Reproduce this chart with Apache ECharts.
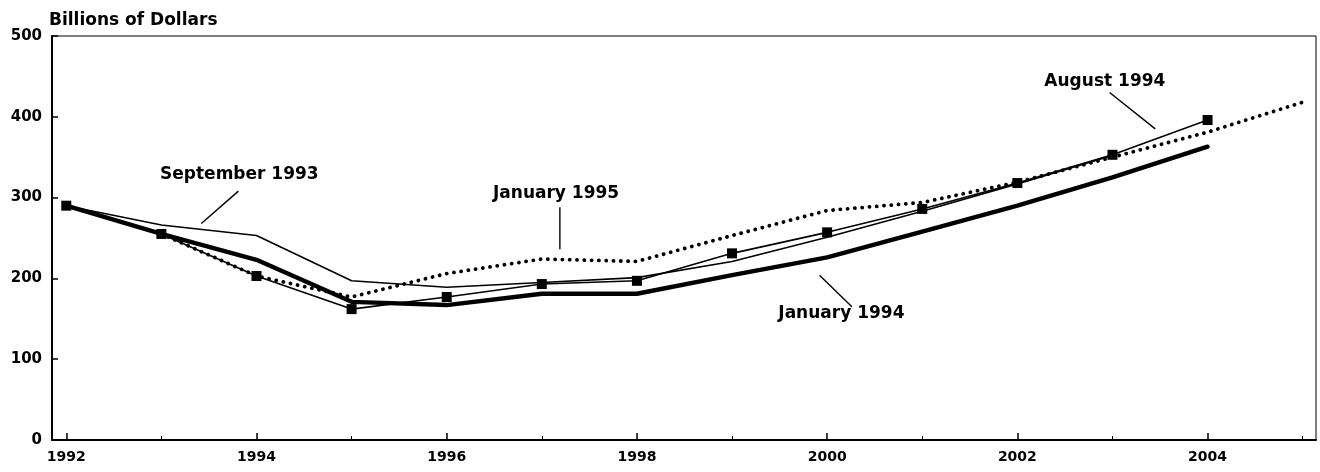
<!DOCTYPE html>
<html><head><meta charset="utf-8">
<script src="https://cdn.jsdelivr.net/npm/echarts@6/dist/echarts.min.js"></script>
<style>html,body{margin:0;padding:0;background:#fff}#c{width:1320px;height:472px}</style>
</head><body><div id="c"></div>
<script>
// ---- data ----
const years   = [1992, 1993, 1994, 1995, 1996, 1997, 1998, 1999, 2000, 2001, 2002, 2003, 2004, 2005];
const sep1993 = [290, 266, 253, 197, 189, 195, 201, 221, 251, 283, 317, 352, null, null];
const jan1994 = [290, 255, 223, 171, 167, 181, 181, 204, 226, 258, 290, 325, 363, null];
const aug1994 = [290, 255, 203, 162, 177, 193, 197, 231, 257, 286, 318, 353, 396, null];
const jan1995 = [null, 255, 203, 177, 206, 224, 221, 253, 284, 294, 319, 350, 381, 418];
const majorYears = [1992, 1994, 1996, 1998, 2000, 2002, 2004];
const minorYears = [1993, 1995, 1997, 1999, 2001, 2003, 2005];
const seriesNames = ['September 1993', 'January 1994', 'August 1994', 'January 1995'];
const yTitle = 'Billions of Dollars';

// annotation text + leader in data coordinates
const annotations = [
  {text: 'September 1993', at: [1993.82, 329], from: [1993.81, 308], to: [1993.42, 268]},
  {text: 'January 1995',   at: [1997.15, 305], from: [1997.19, 288], to: [1997.19, 236]},
  {text: 'January 1994',   at: [2000.15, 157], from: [1999.92, 204], to: [2000.26, 165]},
  {text: 'August 1994',    at: [2002.92, 444], from: [2002.97, 430], to: [2003.45, 385]}
];

const FONT = '"DejaVu Sans", "Liberation Sans", Arial, sans-serif';
const pairs = vals => years.map((y, i) => [y, vals[i]]);

const chart = echarts.init(document.getElementById('c'), null, {renderer: 'canvas'});
const XMIN = 1991.85, XMAX = 2005.14;

const option = {
  animation: false,
  backgroundColor: '#fff',
  title: {
    text: yTitle, left: 49, top: 12, padding: 0,
    textStyle: {fontFamily: FONT, fontWeight: 'bold', fontSize: 17, color: '#000'}
  },
  grid: {left: 52, right: 4, top: 36, bottom: 32, show: true, borderColor: '#000', borderWidth: 1, backgroundColor: 'transparent'},
  xAxis: [
    {
      type: 'value', min: XMIN, max: XMAX, position: 'bottom',
      axisLine: {show: true, lineStyle: {color: '#000', width: 2}},
      axisTick: {show: true, inside: true, length: 7, customValues: majorYears, lineStyle: {color: '#000', width: 1.5}},
      axisLabel: {show: true, customValues: majorYears, formatter: v => String(v), margin: 10,
        fontFamily: FONT, fontWeight: 'bold', fontSize: 14, color: '#000'},
      splitLine: {show: false}
    },
    {
      type: 'value', min: XMIN, max: XMAX, position: 'bottom', gridIndex: 0,
      axisLine: {show: false},
      axisTick: {show: true, inside: true, length: 4, customValues: minorYears, lineStyle: {color: '#000', width: 1}},
      axisLabel: {show: false},
      splitLine: {show: false}
    }
  ],
  yAxis: {
    type: 'value', min: 0, max: 500, interval: 100,
    axisLine: {show: true, lineStyle: {color: '#000', width: 2}},
    axisTick: {show: true, inside: true, length: 6, lineStyle: {color: '#000', width: 1.5}},
    axisLabel: {margin: 10, formatter: v => String(v), fontFamily: FONT, fontWeight: 'bold', fontSize: 15, color: '#000'},
    splitLine: {show: false}
  },
  series: [
    {name: seriesNames[0], type: 'line', data: pairs(sep1993), symbol: 'none',
      lineStyle: {color: '#000', width: 1.6}, z: 3},
    {name: seriesNames[1], type: 'line', data: pairs(jan1994), symbol: 'none',
      lineStyle: {color: '#000', width: 4.4, join: 'round', cap: 'round'}, z: 2},
    {name: seriesNames[2], type: 'line', data: pairs(aug1994), symbol: 'rect', symbolSize: 10,
      itemStyle: {color: '#000'}, lineStyle: {color: '#000', width: 1.6}, z: 4},
    {name: seriesNames[3], type: 'line', data: pairs(jan1995), symbol: 'none',
      lineStyle: {color: '#000', width: 3.8, type: [0.1, 7.2], cap: 'round'}, z: 5}
  ]
};
chart.setOption(option);

const px = p => chart.convertToPixel({xAxisIndex: 0, yAxisIndex: 0}, p);
const graphics = [];
annotations.forEach(a => {
  const t = px(a.at), f = px(a.from), e = px(a.to);
  graphics.push({type: 'text', x: t[0], y: t[1], z: 10,
    style: {text: a.text, font: 'bold 17px ' + FONT, fill: '#000', align: 'center', verticalAlign: 'middle'}});
  graphics.push({type: 'line', z: 10, shape: {x1: f[0], y1: f[1], x2: e[0], y2: e[1]},
    style: {stroke: '#000', lineWidth: 1.4}});
});
chart.setOption({graphic: graphics});
</script>
</body></html>
